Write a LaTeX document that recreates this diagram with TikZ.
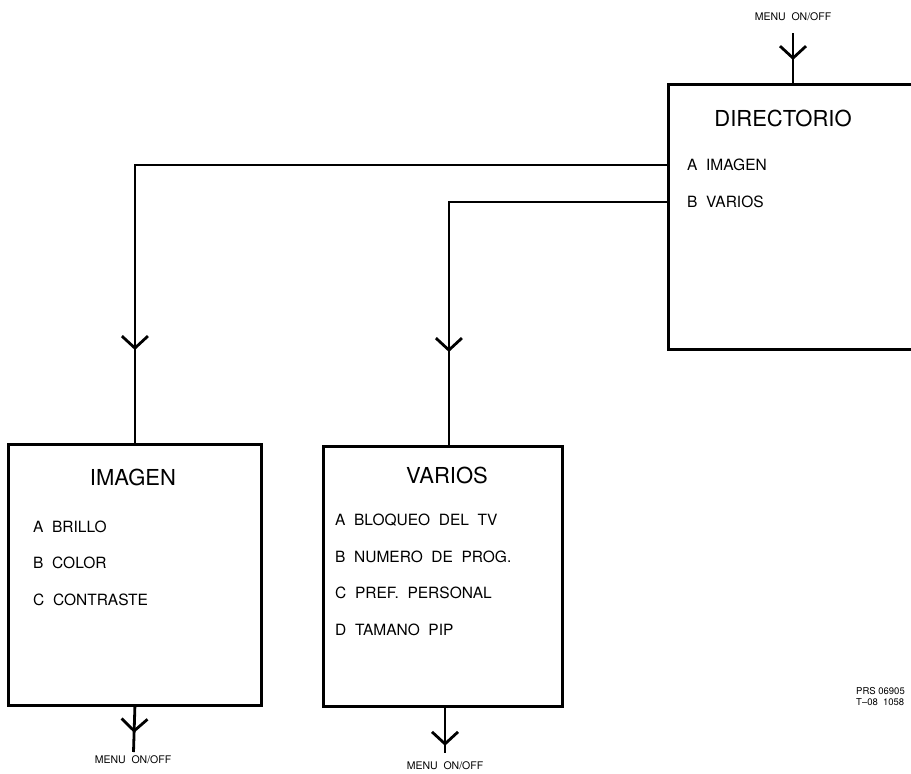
\documentclass[tikz,border=0pt]{standalone}
\usepackage{fontspec}
\setmainfont{TeX Gyre Heros}
\usetikzlibrary{arrows.meta, positioning, calc, decorations.markings}

\begin{document}
\begin{tikzpicture}[
					x=1pt, y=-1pt,
					menubox/.style={rectangle, draw, line width=2.8pt, anchor=north west, inner sep=0pt},
					boxtitle/.style={font=\fontsize{22}{24}\selectfont},
					item/.style={anchor=west, inner sep=0pt, font=\fontsize{15.5}{18}\selectfont},
					keylabel/.style={font=\fontsize{10.5}{12}\selectfont},
					link/.style={line width=2.8pt},
					vhead/.style={postaction={decorate, decoration={markings,
						mark=at position #1 with {\arrow{Straight Barb[length=12pt, width=26pt]}}}}}
					]
					\useasboundingbox (0,0) rectangle (911,774);
					\clip (0,0) rectangle (911,774);
					
					% --- Top right: Directorio ---
					\node[menubox, minimum width=265pt, minimum height=265pt] (dir) at (667,83) {};
					\node[boxtitle] (dirtitle) at (783,118) {DIRECTORIO};
					\node[item] (dira) at (687,165) {A~~IMAGEN};
					\node[item] (dirb) at (687,202) {B~~VARIOS};
					\coordinate (dirin) at (793,33);
					\node[keylabel] (dirkey) at (793,17) {MENU~~ON/OFF};
					\draw[link, vhead=27pt] (dirin) -- (dirin |- dir.north);
					
					% --- Bottom left: Imagen ---
					\node[menubox, minimum width=253pt, minimum height=261pt] (img) at (7,443) {};
					\node[boxtitle] (imgtitle) at (133,477) {IMAGEN};
					\node[item] (imga) at (33,527) {A~~BRILLO};
					\node[item] (imgb) at (33,563) {B~~COLOR};
					\node[item] (imgc) at (33,600) {C~~CONTRASTE};
					\coordinate (imgout) at (133.5,752);
					\node[keylabel] (imgkey) at (133,760) {MENU~~ON/OFF};
					\draw[link, vhead=26pt] (img.south) -- (imgout);
					
					% --- Bottom middle: Varios ---
					\node[menubox, minimum width=239pt, minimum height=260pt] (var) at (322,445) {};
					\node[boxtitle] (vartitle) at (447,475) {VARIOS};
					\node[item] (vara) at (335,520) {A~~BLOQUEO~~DEL~~TV};
					\node[item] (varb) at (335,557) {B~~NUMERO~~DE~~PROG.};
					\node[item] (varc) at (335,593) {C~~PREF.~~PERSONAL};
					\node[item] (vard) at (335,630) {D~~TAMANO~~PIP};
					\coordinate (varout) at (445,753);
					\node[keylabel] (varkey) at (445,766) {MENU~~ON/OFF};
					\draw[link, vhead=38pt] (varout |- var.south) -- (varout);
					
					% --- Connectors from the directorio ---
					\draw[link, vhead=-93pt] (dir.west |- dira) -| (img.north);
					\draw[link, vhead=-93pt] (dir.west |- dirb) -| ([xshift=6pt]var.north);
					
					% --- Reference code ---
					\node[anchor=west, align=left, inner sep=0pt, font=\fontsize{9.5}{11}\selectfont] (prs) at (856,697) {PRS 06905\\T--08~~1058};
				\end{tikzpicture}
\end{document}
